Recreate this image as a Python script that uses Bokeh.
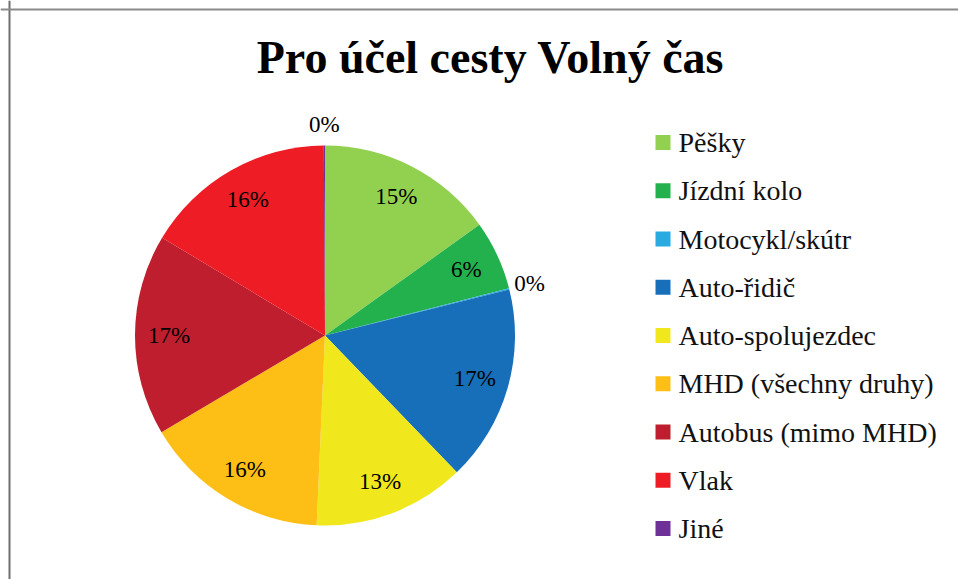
import math
from bokeh.plotting import figure
from bokeh.models import ColumnDataSource, Label, Span
from bokeh.core.properties import value
from bokeh.embed import file_html
from bokeh.resources import INLINE

title = "Pro účel cesty Volný čas"
categories = ["Pěšky", "Jízdní kolo", "Motocykl/skútr", "Auto-řidič",
              "Auto-spolujezdec", "MHD (všechny druhy)", "Autobus (mimo MHD)",
              "Vlak", "Jiné"]
shares = [15.1, 5.9, 0.1, 16.7, 12.9, 15.8, 17.1, 16.3, 0.1]
colors = ["#92D050", "#23B14D", "#29ABE2", "#176FB9", "#F0E81C",
          "#FDBF15", "#BE1E2D", "#EE1C25", "#6E3198"]

SERIF = "'Liberation Serif', 'DejaVu Serif', serif"

W, H = 958, 579
p = figure(width=W, height=H, x_range=(0, W), y_range=(0, H),
           output_backend="svg", toolbar_location=None,
           x_axis_location=None, y_axis_location=None, min_border=0)
p.grid.visible = False
p.outline_line_color = None
p.background_fill_color = "white"

cx, cy, r = 324.5, 244.0, 190.0
total = sum(shares)
starts, ends, lx, ly, labels = [], [], [], [], []
cum = 0.0
for v in shares:
    f0 = cum / total
    cum += v
    f1 = cum / total
    starts.append(math.pi / 2 - f0 * 2 * math.pi)
    ends.append(math.pi / 2 - f1 * 2 * math.pi)
    mid = math.pi / 2 - (f0 + f1) / 2 * 2 * math.pi
    pct = round(v / total * 100)
    rr = 156 if pct > 2 else 211
    lx.append(cx + rr * math.cos(mid))
    ly.append(cy + rr * math.sin(mid))
    labels.append(f"{pct}%")

src = ColumnDataSource(dict(start=starts, end=ends, color=colors, cat=categories,
                            lx=lx, ly=ly, lab=labels))
p.wedge(x=cx, y=cy, radius=r, start_angle="start", end_angle="end",
        direction="clock", fill_color="color", line_color=None, source=src)
p.text(x="lx", y="ly", text="lab", source=src, text_align="center",
       text_baseline="middle", text_font=value(SERIF),
       text_font_size="23px", text_color="black")

# legend
lg_x, lg_y0, lg_step = 662.5, 437.0, 48.25
leg = ColumnDataSource(dict(
    x=[lg_x] * len(categories),
    y=[lg_y0 - i * lg_step for i in range(len(categories))],
    ty=[lg_y0 - i * lg_step for i in range(len(categories))],
    tx=[lg_x + 15.5] * len(categories),
    color=colors, cat=categories))
p.rect(x="x", y="y", width=15, height=15, fill_color="color", line_color=None, source=leg)
p.text(x="tx", y="ty", text="cat", source=leg, text_align="left",
       text_baseline="middle", text_font=value(SERIF),
       text_font_size="28px", text_color="#111111")

p.add_layout(Label(x=490, y=522, text=title, text_align="center",
                   text_baseline="middle", text_font=SERIF,
                   text_font_style="bold", text_font_size="46px", text_color="black"))

# chart-area border (left and top edges visible)
p.add_layout(Span(location=9, dimension="height", line_color="#6f6f6f", line_width=2))
p.add_layout(Span(location=H - 9, dimension="width", line_color="#8a8a8a", line_width=2))

open("out.html", "w").write(file_html(p, INLINE))
